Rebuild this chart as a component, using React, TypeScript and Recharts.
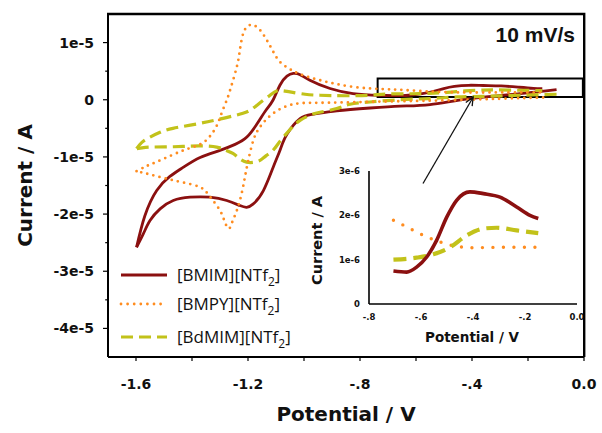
import React from 'react';
import { LineChart, Line, XAxis, YAxis, ReferenceArea, ReferenceLine, Label } from 'recharts';

type Pt = [number, number]; // [potential (V), current (A)]

const COLOR_BMIM = '#8B1010';
const COLOR_BMPY = '#FF8C1F';
const COLOR_BDMIM = '#C2C21A';

const seriesNames = ['[BMIM][NTf', '[BMPY][NTf', '[BdMIM][NTf'];

// ---------- main CV (10 mV/s) ----------
const bmimCathodic: Pt[] = [
  [-0.098, 0.179e-5], [-0.229, 0.109e-5], [-0.407, 0.021e-5], [-0.55, -0.084e-5], [-0.657, -0.111e-5],
  [-0.764, -0.144e-5], [-0.883, -0.196e-5], [-0.968, -0.254e-5], [-1.014, -0.33e-5], [-1.061, -0.605e-5],
  [-1.086, -0.886e-5], [-1.11, -1.179e-5], [-1.145, -1.588e-5], [-1.181, -1.821e-5], [-1.205, -1.881e-5],
  [-1.229, -1.851e-5], [-1.276, -1.763e-5], [-1.336, -1.705e-5], [-1.407, -1.705e-5], [-1.467, -1.763e-5],
  [-1.514, -1.909e-5], [-1.55, -2.114e-5], [-1.574, -2.347e-5], [-1.598, -2.58e-5],
];
const bmimAnodic: Pt[] = [
  [-1.598, -2.58e-5], [-1.568, -2.026e-5], [-1.526, -1.588e-5], [-1.479, -1.342e-5], [-1.432, -1.184e-5],
  [-1.371, -1.009e-5], [-1.3, -0.886e-5], [-1.246, -0.781e-5], [-1.204, -0.653e-5], [-1.164, -0.395e-5],
  [-1.136, -0.184e-5], [-1.111, -0.009e-5], [-1.086, 0.254e-5], [-1.061, 0.412e-5], [-1.038, 0.46e-5],
  [-1.014, 0.439e-5], [-0.979, 0.342e-5], [-0.907, 0.196e-5], [-0.825, 0.109e-5], [-0.729, 0.079e-5],
  [-0.655, 0.072e-5], [-0.617, 0.083e-5], [-0.578, 0.106e-5], [-0.54, 0.144e-5], [-0.501, 0.196e-5],
  [-0.463, 0.234e-5], [-0.412, 0.253e-5], [-0.36, 0.249e-5], [-0.296, 0.241e-5], [-0.232, 0.219e-5],
  [-0.181, 0.2e-5], [-0.149, 0.193e-5],
];
const bmpyCathodic: Pt[] = [
  [-0.146, 0.039e-5], [-0.3, 0.018e-5], [-0.479, -0.009e-5], [-0.657, -0.026e-5], [-0.8, -0.04e-5],
  [-0.943, -0.053e-5], [-1.039, -0.079e-5], [-1.111, -0.242e-5], [-1.157, -0.477e-5], [-1.181, -0.711e-5],
  [-1.199, -1.061e-5], [-1.211, -1.354e-5], [-1.223, -1.646e-5], [-1.24, -1.939e-5], [-1.257, -2.149e-5],
  [-1.268, -2.254e-5], [-1.282, -2.149e-5], [-1.3, -1.939e-5], [-1.336, -1.693e-5], [-1.371, -1.53e-5],
  [-1.432, -1.447e-5], [-1.49, -1.382e-5], [-1.55, -1.307e-5], [-1.598, -1.249e-5],
];
const bmpyAnodic: Pt[] = [
  [-1.598, -1.249e-5], [-1.557, -1.149e-5], [-1.514, -1.061e-5], [-1.431, -0.886e-5], [-1.371, -0.781e-5],
  [-1.336, -0.64e-5], [-1.311, -0.447e-5], [-1.293, -0.219e-5], [-1.276, -0.009e-5], [-1.264, 0.167e-5],
  [-1.24, 0.575e-5], [-1.229, 0.868e-5], [-1.217, 1.161e-5], [-1.2, 1.289e-5], [-1.181, 1.307e-5],
  [-1.157, 1.219e-5], [-1.133, 1.044e-5], [-1.111, 0.851e-5], [-1.086, 0.663e-5], [-1.05, 0.535e-5],
  [-1.014, 0.447e-5], [-0.943, 0.342e-5], [-0.824, 0.225e-5], [-0.705, 0.184e-5], [-0.655, 0.174e-5],
  [-0.591, 0.155e-5], [-0.527, 0.14e-5], [-0.463, 0.13e-5], [-0.399, 0.127e-5], [-0.27, 0.128e-5],
  [-0.149, 0.128e-5],
];
const bdmimCathodic: Pt[] = [
  [-0.098, 0.096e-5], [-0.229, 0.079e-5], [-0.346, 0.061e-5], [-0.454, 0.049e-5], [-0.55, 0.021e-5],
  [-0.657, 0.0], [-0.764, -0.039e-5], [-0.836, -0.079e-5], [-0.883, -0.154e-5], [-0.943, -0.219e-5],
  [-0.979, -0.272e-5], [-1.014, -0.36e-5], [-1.039, -0.465e-5], [-1.062, -0.588e-5], [-1.086, -0.728e-5],
  [-1.111, -0.886e-5], [-1.136, -0.982e-5], [-1.157, -1.061e-5], [-1.182, -1.096e-5], [-1.205, -1.091e-5],
  [-1.229, -1.035e-5], [-1.254, -0.939e-5], [-1.282, -0.877e-5], [-1.312, -0.828e-5], [-1.371, -0.807e-5],
  [-1.432, -0.816e-5], [-1.496, -0.825e-5], [-1.55, -0.828e-5], [-1.579, -0.842e-5], [-1.598, -0.856e-5],
];
const bdmimAnodic: Pt[] = [
  [-1.598, -0.856e-5], [-1.579, -0.746e-5], [-1.55, -0.653e-5], [-1.514, -0.57e-5], [-1.468, -0.5e-5],
  [-1.371, -0.412e-5], [-1.289, -0.325e-5], [-1.218, -0.237e-5], [-1.182, -0.149e-5], [-1.15, -0.026e-5],
  [-1.121, 0.079e-5], [-1.098, 0.154e-5], [-1.075, 0.158e-5], [-1.05, 0.137e-5], [-0.996, 0.096e-5],
  [-0.943, 0.079e-5], [-0.854, 0.07e-5], [-0.764, 0.079e-5], [-0.706, 0.1e-5], [-0.617, 0.105e-5],
  [-0.553, 0.112e-5], [-0.488, 0.128e-5], [-0.424, 0.155e-5], [-0.36, 0.17e-5], [-0.309, 0.172e-5],
  [-0.232, 0.166e-5], [-0.149, 0.16e-5],
];

// ---------- inset (zoom of anodic branch) ----------
const insetBmim: Pt[] = [
  [-0.706, 0.743e-6], [-0.655, 0.72e-6], [-0.617, 0.833e-6], [-0.578, 1.06e-6], [-0.54, 1.436e-6],
  [-0.501, 1.96e-6], [-0.463, 2.34e-6], [-0.412, 2.53e-6], [-0.36, 2.49e-6], [-0.296, 2.41e-6],
  [-0.232, 2.19e-6], [-0.181, 2.0e-6], [-0.149, 1.93e-6],
];
const insetBmpy: Pt[] = [
  [-0.706, 1.89e-6], [-0.655, 1.74e-6], [-0.591, 1.55e-6], [-0.527, 1.4e-6], [-0.463, 1.3e-6],
  [-0.399, 1.27e-6], [-0.27, 1.28e-6], [-0.149, 1.28e-6],
];
const insetBdmim: Pt[] = [
  [-0.706, 1.0e-6], [-0.617, 1.045e-6], [-0.553, 1.12e-6], [-0.488, 1.28e-6], [-0.424, 1.55e-6],
  [-0.36, 1.7e-6], [-0.309, 1.72e-6], [-0.232, 1.66e-6], [-0.149, 1.6e-6],
];

// ---------- axes ----------
const mainXDomain: [number, number] = [-1.7, 0];
const mainYDomain: [number, number] = [-4.5e-5, 1.5e-5];
const mainXTicks = [-1.6, -1.4, -1.2, -1.0, -0.8, -0.6, -0.4, -0.2, 0];
const mainXLabels = ['-1.6', '', '-1.2', '', '-.8', '', '-.4', '', '0.0'];
const mainYTicks = [-4e-5, -3.5e-5, -3e-5, -2.5e-5, -2e-5, -1.5e-5, -1e-5, -0.5e-5, 0, 0.5e-5, 1e-5];
const mainYLabels = ['-4e-5', '', '-3e-5', '', '-2e-5', '', '-1e-5', '', '0', '', '1e-5'];

const insetXDomain: [number, number] = [-0.8, 0];
const insetYDomain: [number, number] = [0, 3e-6];
const insetXTicks = [-0.8, -0.6, -0.4, -0.2, 0];
const insetXLabels = ['-.8', '-.6', '-.4', '-.2', '0.0'];
const insetYTicks = [0, 1e-6, 2e-6, 3e-6];
const insetYLabels = ['0', '1e-6', '2e-6', '3e-6'];

// zoom box & arrow (data coordinates)
const zoomBox = { x1: -0.737, x2: -0.004, y1: 0.049e-5, y2: 0.372e-5 };
const arrowSeg = [{ x: -0.575, y: -1.465e-5 }, { x: -0.396, y: 0.044e-5 }];

const rows = (pts: Pt[]) => pts.map(([v, i]) => ({ v, i }));

const FONT = '"DejaVu Sans", sans-serif';

const MainXTick = (p: any) => {
  const label = mainXLabels[p.index] ?? '';
  return (
    <g>
      <line x1={p.x} x2={p.x} y1={p.y} y2={p.y + 4} stroke="#000" strokeWidth={1.2} />
      {label && (
        <text x={p.x} y={p.y + 32} textAnchor="middle" fontFamily={FONT} fontWeight="bold" fontSize={14} fill="#111">
          {label}
        </text>
      )}
    </g>
  );
};
const MainYTick = (p: any) => {
  const label = mainYLabels[p.index] ?? '';
  const len = label ? 5 : 2.8;
  return (
    <g>
      <line x1={p.x - len} x2={p.x} y1={p.y} y2={p.y} stroke="#000" strokeWidth={1.2} />
      {label && (
        <text x={p.x - 14} y={p.y + 5} textAnchor="end" fontFamily={FONT} fontWeight="bold" fontSize={14} fill="#111">
          {label}
        </text>
      )}
    </g>
  );
};
const InsetXTick = (p: any) => (
  <text x={p.x} y={p.y + 15.5} textAnchor="middle" fontFamily={FONT} fontWeight="bold" fontSize={8.5} fill="#111">
    {insetXLabels[p.index] ?? ''}
  </text>
);
const InsetYTick = (p: any) => (
  <text x={p.x - 9} y={p.y + 3} textAnchor="end" fontFamily={FONT} fontWeight="bold" fontSize={8.5} fill="#111">
    {insetYLabels[p.index] ?? ''}
  </text>
);

const Arrow = (p: any) => {
  const { x1, y1, x2, y2 } = p;
  if ([x1, y1, x2, y2].some((n) => typeof n !== 'number' || isNaN(n))) return <g />;
  const a = Math.atan2(y2 - y1, x2 - x1);
  const L = 9;
  const d = 0.42;
  const hx1 = x2 - L * Math.cos(a - d);
  const hy1 = y2 - L * Math.sin(a - d);
  const hx2 = x2 - L * Math.cos(a + d);
  const hy2 = y2 - L * Math.sin(a + d);
  return (
    <g stroke="#111" strokeWidth={1.3} fill="none">
      <line x1={x1} y1={y1} x2={x2} y2={y2} />
      <polyline points={`${hx1},${hy1} ${x2},${y2} ${hx2},${hy2}`} />
    </g>
  );
};

const mainSeries = [
  { key: 'bmimC', data: bmimCathodic, color: COLOR_BMIM, w: 2.8, dash: undefined as string | undefined, cap: 'butt' },
  { key: 'bmimA', data: bmimAnodic, color: COLOR_BMIM, w: 2.8, dash: undefined, cap: 'butt' },
  { key: 'bdC', data: bdmimCathodic, color: COLOR_BDMIM, w: 3.2, dash: '12 6', cap: 'butt' },
  { key: 'bdA', data: bdmimAnodic, color: COLOR_BDMIM, w: 3.2, dash: '12 6', cap: 'butt' },
  { key: 'bmpyC', data: bmpyCathodic, color: COLOR_BMPY, w: 2.8, dash: '0 6.3', cap: 'round' },
  { key: 'bmpyA', data: bmpyAnodic, color: COLOR_BMPY, w: 2.8, dash: '0 6.3', cap: 'round' },
];

const Legend = () => {
  const rowsY = [275, 304, 337];
  const colors = [COLOR_BMIM, COLOR_BMPY, COLOR_BDMIM];
  const dashes = [undefined, '0 6.6', '12 6'];
  const caps = ['butt', 'round', 'butt'];
  return (
    <g>
      {rowsY.map((y, k) => (
        <g key={k}>
          <line x1={121} x2={167} y1={y} y2={y} stroke={colors[k]} strokeWidth={k === 1 ? 2.8 : 3.2}
            strokeDasharray={dashes[k]} strokeLinecap={caps[k] as any} />
          <text x={177} y={y + 6} fontFamily='"Open Sans", sans-serif' fontSize={17} fill="#111">
            {seriesNames[k]}
            <tspan fontSize={12} dy={5}>2</tspan>
            <tspan dy={-5}>]</tspan>
          </text>
        </g>
      ))}
    </g>
  );
};

export default function App() {
  return (
    <div style={{ position: 'absolute', left: 0, top: 0, width: 602, height: 433, background: '#fff' }}>
      <LineChart width={602} height={433} margin={{ top: 14, right: 18, bottom: 0, left: 0 }}>
        <XAxis type="number" dataKey="v" domain={mainXDomain} ticks={mainXTicks} interval={0} allowDataOverflow
          height={76} tickSize={0} tickMargin={0} tickLine={false} tick={<MainXTick />}
          axisLine={{ stroke: '#000', strokeWidth: 2 }}>
          <Label content={(p: any) => {
            const vb = p.viewBox || { x: 108, y: 357, width: 476 };
            return (
              <text x={vb.x + vb.width / 2} y={vb.y + 64} textAnchor="middle" fontFamily={FONT} fontWeight="bold" fontSize={20} fill="#111">
                Potential / V
              </text>
            );
          }} />
        </XAxis>
        <YAxis type="number" dataKey="i" domain={mainYDomain} ticks={mainYTicks} interval={0} allowDataOverflow
          width={108} tickSize={0} tickMargin={0} tickLine={false} tick={<MainYTick />}
          axisLine={{ stroke: '#000', strokeWidth: 2 }}>
          <Label content={(p: any) => {
            const vb = p.viewBox || { x: 0, y: 14, height: 343 };
            const cx = 25;
            const cy = vb.y + vb.height / 2;
            return (
              <text x={cx} y={cy} transform={`rotate(-90 ${cx} ${cy})`} textAnchor="middle" dominantBaseline="central"
                fontFamily={FONT} fontWeight="bold" fontSize={20} fill="#111">
                Current / A
              </text>
            );
          }} />
        </YAxis>
        {mainSeries.map((s) => (
          <Line key={s.key} data={rows(s.data)} dataKey="i" type="natural" stroke={s.color} strokeWidth={s.w}
            strokeDasharray={s.dash} strokeLinecap={s.cap as any} dot={false} activeDot={false}
            isAnimationActive={false} legendType="none" />
        ))}
        <ReferenceArea x1={zoomBox.x1} x2={zoomBox.x2} y1={zoomBox.y1} y2={zoomBox.y2} ifOverflow="visible"
          fill="none" fillOpacity={0} stroke="#000" strokeWidth={2} />
        <ReferenceLine segment={arrowSeg} ifOverflow="visible" shape={(p: any) => <Arrow {...p} />} />
      </LineChart>

      <div style={{ position: 'absolute', left: 300, top: 160, width: 290, height: 190 }}>
        <LineChart width={290} height={190} margin={{ top: 11, right: 13, bottom: 0, left: 0 }}>
          <XAxis type="number" dataKey="v" domain={insetXDomain} ticks={insetXTicks} interval={0} allowDataOverflow
            height={46} tickSize={0} tickMargin={0} tickLine={false} tick={<InsetXTick />}
            axisLine={{ stroke: '#000', strokeWidth: 1.6 }}>
            <Label content={(p: any) => {
              const vb = p.viewBox || { x: 69, y: 144, width: 208 };
              return (
                <text x={vb.x + vb.width / 2 - 1} y={vb.y + 38} textAnchor="middle" fontFamily={FONT} fontWeight="bold" fontSize={13.5} fill="#111">
                  Potential / V
                </text>
              );
            }} />
          </XAxis>
          <YAxis type="number" dataKey="i" domain={insetYDomain} ticks={insetYTicks} interval={0} allowDataOverflow
            width={69} tickSize={0} tickMargin={0} tickLine={false} tick={<InsetYTick />}
            axisLine={{ stroke: '#000', strokeWidth: 1.6 }}>
            <Label content={(p: any) => {
              const vb = p.viewBox || { x: 0, y: 11, height: 133 };
              const cx = 17;
              const cy = vb.y + vb.height / 2 + 3;
              return (
                <text x={cx} y={cy} transform={`rotate(-90 ${cx} ${cy})`} textAnchor="middle" dominantBaseline="central"
                  fontFamily={FONT} fontWeight="bold" fontSize={14.5} fill="#111">
                  Current / A
                </text>
              );
            }} />
          </YAxis>
          <Line data={rows(insetBmpy)} dataKey="i" type="monotone" stroke={COLOR_BMPY} strokeWidth={3.4}
            strokeDasharray="0 10.5" strokeLinecap="round" dot={false} activeDot={false} isAnimationActive={false} />
          <Line data={rows(insetBdmim)} dataKey="i" type="monotone" stroke={COLOR_BDMIM} strokeWidth={4.2}
            strokeDasharray="13 7" dot={false} activeDot={false} isAnimationActive={false} />
          <Line data={rows(insetBmim)} dataKey="i" type="monotone" stroke={COLOR_BMIM} strokeWidth={3.6}
            dot={false} activeDot={false} isAnimationActive={false} />
        </LineChart>
      </div>

      <svg width={602} height={433} style={{ position: 'absolute', left: 0, top: 0, pointerEvents: 'none' }}>
        {/* top and right edges of the main plot frame */}
        <polyline points="107,14 584.2,14 584.2,357" fill="none" stroke="#000" strokeWidth={2.4} />
        <text x={575} y={41.5} textAnchor="end" fontFamily='"Liberation Sans", Arial, sans-serif' fontWeight="bold" fontSize={21} fill="#111">
          10 mV/s
        </text>
        <Legend />
      </svg>
    </div>
  );
}
